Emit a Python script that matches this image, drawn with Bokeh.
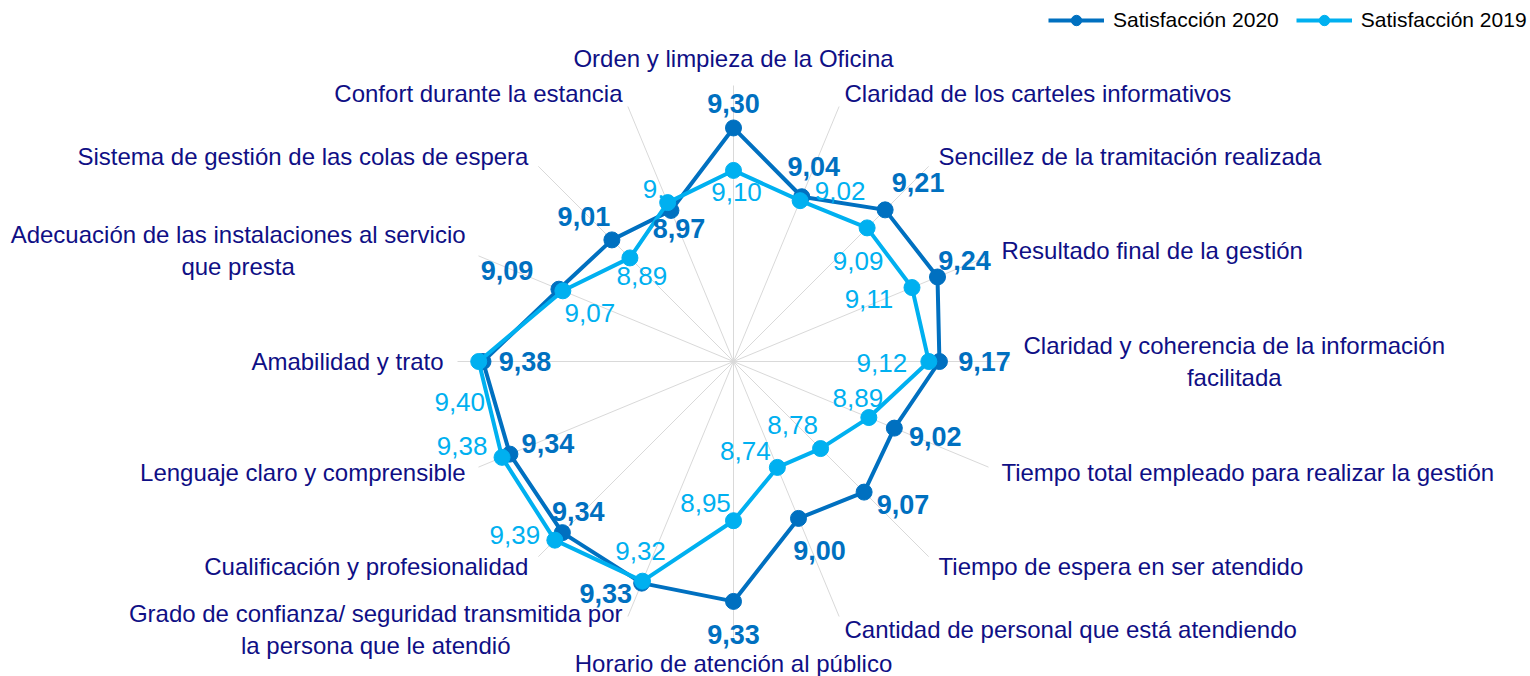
import math
from bokeh.plotting import figure
from bokeh.models import Range1d, Legend, LegendItem, ColumnDataSource
from bokeh.core.properties import value
from bokeh.embed import file_html
from bokeh.resources import INLINE

# ---------------- data ----------------
categories = [
    "Orden y limpieza de la Oficina",
    "Claridad de los carteles informativos",
    "Sencillez de la tramitación realizada",
    "Resultado final de la gestión",
    "Claridad y coherencia de la información\nfacilitada",
    "Tiempo total empleado para realizar la gestión",
    "Tiempo de espera en ser atendido",
    "Cantidad de personal que está atendiendo",
    "Horario de atención al público",
    "Grado de confianza/ seguridad transmitida por\nla persona que le atendió",
    "Cualificación y profesionalidad",
    "Lenguaje claro y comprensible",
    "Amabilidad y trato",
    "Adecuación de las instalaciones al servicio\nque presta",
    "Sistema de gestión de las colas de espera",
    "Confort durante la estancia",
]
sat_2020 = [9.30, 9.04, 9.21, 9.24, 9.17, 9.02, 9.07, 9.00, 9.33, 9.33, 9.34, 9.34, 9.38, 9.09, 9.01, 8.97]
sat_2019 = [9.10, 9.02, 9.09, 9.11, 9.12, 8.89, 8.78, 8.74, 8.95, 9.32, 9.39, 9.38, 9.40, 9.07, 8.89, 9.01]
series_names = ["Satisfacción 2020", "Satisfacción 2019"]
axis_min, axis_max = 8.2, 9.5

def fmt(v):
    return f"{v:.2f}".replace(".", ",")

labels_2020 = [fmt(v) for v in sat_2020]
labels_2019 = [fmt(v) for v in sat_2019]
labels_2019[15] = "9,"  # label appears truncated in the original chart

# ---------------- styles / layout ----------------
W, H = 1530, 676
CX, CY = 733, 361          # centre of radar in canvas pixels
R_OUT = 276                # radius of axis max
R_LAB = 290                # radius of category labels
C20, C19 = "#0070C0", "#00B0F0"
NAVY = "#0F0F85"
FONT = "Liberation Sans"

# label offsets in screen pixels (dx right, dy down) relative to the marker
off_2020 = [(0, -24), (12, -30), (33, -27), (27, -17), (45, 0), (41, 8), (39, 12), (21, 32),
            (0, 33), (-36, 10), (16, -21), (38, -11), (42, 0), (-52, -19), (-28, -23), (8, 18)]
off_2019 = [(3, 22), (40, -10), (-9, 33), (-43, 11), (-47, 1), (-11, -20), (-28, -24), (-32, -16),
            (-28, -18), (-2, -30), (-40, -5), (-40, -11), (-19, 40), (27, 22), (12, 18), (-14, -14)]

n = len(categories)
angles = [2 * math.pi * k / n for k in range(n)]

def radius(v):
    return (v - axis_min) / (axis_max - axis_min) * R_OUT

def polar(vals):
    xs = [radius(v) * math.sin(a) for v, a in zip(vals, angles)]
    ys = [radius(v) * math.cos(a) for v, a in zip(vals, angles)]
    return xs, ys

p = figure(width=W, height=H, output_backend="svg", toolbar_location=None,
           x_range=Range1d(-CX, W - CX), y_range=Range1d(-(H - CY), CY),
           min_border=0, outline_line_color=None)
p.axis.visible = False
p.grid.visible = False
p.background_fill_color = "white"

# spokes
p.segment(x0=[0] * n, y0=[0] * n,
          x1=[R_OUT * math.sin(a) for a in angles],
          y1=[R_OUT * math.cos(a) for a in angles],
          line_color="#D9D9D9", line_width=1)

renderers = {}
for vals, color, name in [(sat_2020, C20, series_names[0]), (sat_2019, C19, series_names[1])]:
    xs, ys = polar(vals)
    ln = p.line(xs + xs[:1], ys + ys[:1], line_color=color, line_width=4, line_join="round")
    sc = p.scatter(xs, ys, size=16, fill_color=color, line_color=color, marker="circle")
    renderers[name] = (ln, sc)

# value labels
for vals, labs, offs, color, style, size in [
        (sat_2020, labels_2020, off_2020, C20, "bold", "27px"),
        (sat_2019, labels_2019, off_2019, C19, "normal", "26px")]:
    xs, ys = polar(vals)
    src = ColumnDataSource(dict(
        x=[x + o[0] for x, o in zip(xs, offs)],
        y=[y - o[1] for y, o in zip(ys, offs)],
        text=labs))
    p.text(x="x", y="y", text="text", source=src, text_align="center", text_baseline="middle",
           text_font=value(FONT), text_font_size=size, text_font_style=style, text_color=color)

# category labels
for cat, a in zip(categories, angles):
    s, c = math.sin(a), math.cos(a)
    kw = dict(text_font=value(FONT), text_font_size="24px", text_color=NAVY, text_line_height=1.2)
    if abs(s) < 1e-6:
        if c > 0:
            p.text(x=[0], y=[R_LAB + 13], text=[cat], text_align="center",
                   text_baseline="alphabetic", **kw)
        else:
            p.text(x=[0], y=[-(R_LAB - 2)], text=[cat], text_align="center",
                   text_baseline="top", **kw)
        continue
    x, y = R_LAB * s, R_LAB * c
    if "\n" in cat:
        p.text(x=[x], y=[y], text=[cat], text_align="center", text_baseline="middle",
               anchor=value("center_left" if s > 0 else "center_right"), **kw)
    else:
        p.text(x=[x], y=[y], text=[cat], text_align="left" if s > 0 else "right",
               text_baseline="middle", **kw)

legend = Legend(
    items=[LegendItem(label=series_names[0], renderers=list(renderers[series_names[0]])),
           LegendItem(label=series_names[1], renderers=list(renderers[series_names[1]]))],
    location=(1048, H - 26 - 7), orientation="horizontal",
    glyph_width=56, glyph_height=26, label_standoff=9, spacing=17,
    padding=0, margin=0, border_line_alpha=0, background_fill_alpha=0,
    label_text_font=FONT, label_text_font_size="21px", label_text_color="black")
p.add_layout(legend, "center")

open("out.html", "w").write(file_html(p, INLINE))
